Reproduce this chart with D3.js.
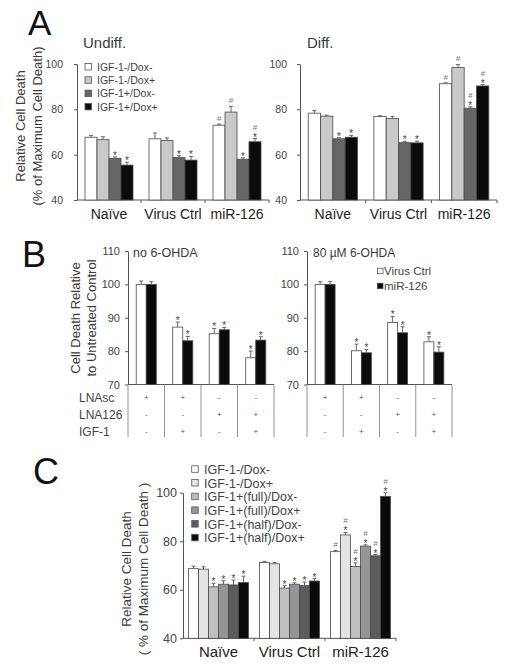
<!DOCTYPE html>
<html><head><meta charset="utf-8">
<script src="https://cdn.jsdelivr.net/npm/d3@7"></script>
<style>
body{margin:0;background:#fff}
svg{display:block}
text{font-family:"Liberation Sans",Arial,Helvetica,sans-serif}
</style>
</head><body>
<svg id="chart" width="509" height="665"></svg>
<script>
// ---------- DATA ----------
// Panel A
const aCategories = ["Naïve", "Virus Ctrl", "miR-126"];
const aSeries = ["IGF-1-/Dox-", "IGF-1-/Dox+", "IGF-1+/Dox-", "IGF-1+/Dox+"];
const aTicks = [40, 60, 80, 100];
const aUndiffValues = [[67.7, 66.6, 58.4, 55.4], [67.0, 66.2, 58.7, 57.6], [73.0, 78.8, 58.0, 65.7]];
const aUndiffErrors = [[0.8, 1.3, 0.6, 1.3], [2.6, 1.2, 0.9, 1.6], [0.5, 2.5, 0.6, 1.4]];
const aUndiffMarks = [["", "", "*", "*"], ["", "", "*", "*"], ["#", "#", "*", "#*"]];
const aDiffValues = [[78.3, 77.0, 67.0, 67.7], [76.8, 76.0, 65.3, 65.2], [91.3, 98.5, 80.5, 90.3]];
const aDiffErrors = [[1.2, 0.4, 0.5, 0.8], [0.4, 0.9, 0.6, 0.8], [0.4, 1.3, 0.6, 0.6]];
const aDiffMarks = [["", "", "*", "*"], ["", "", "*", "*"], ["#", "#", "#*", "#*"]];

// Panel B
const bGroups = ["g1", "g2", "g3", "g4"];
const bSeries = ["Virus Ctrl", "miR-126"];
const bTicks = [70, 80, 90, 100, 110];
const bNoValues = [[100, 100], [87.2, 83.1], [85.2, 86.4], [78.0, 83.3]];
const bNoErrors = [[1.0, 0.8], [1.5, 1.3], [1.6, 0.7], [2.0, 1.0]];
const bNoMarks = [["", ""], ["*", "*"], ["*", "*"], ["*", "*"]];
const b80Values = [[100, 100], [80.1, 79.5], [88.6, 85.5], [82.8, 79.7]];
const b80Errors = [[0.8, 0.8], [2.0, 1.0], [1.8, 1.8], [1.5, 1.6]];
const b80Marks = [["", ""], ["*", "*"], ["*", "*"], ["*", "*"]];
const bRowLabels = ["LNAsc", "LNA126", "IGF-1"];
const bRowSigns = [["+", "+", "-", "-"], ["-", "-", "+", "+"], ["-", "+", "-", "+"]];

// Panel C
const cCategories = ["Naïve", "Virus Ctrl", "miR-126"];
const cSeries = ["IGF-1-/Dox-", "IGF-1-/Dox+", "IGF-1+(full)/Dox-", "IGF-1+(full)/Dox+", "IGF-1+(half)/Dox-", "IGF-1+(half)/Dox+"];
const cTicks = [40, 60, 80, 100];
const cValues = [[68.7, 68.5, 61.2, 62.3, 62.0, 63.0], [71.2, 70.7, 60.7, 62.3, 61.7, 63.6], [75.7, 82.6, 69.6, 78.0, 74.0, 98.5]];
const cErrors = [[1.0, 1.0, 1.5, 1.4, 2.0, 2.6], [0.5, 0.5, 1.0, 0.6, 1.5, 1.0], [0.5, 1.0, 1.5, 0.5, 0.5, 1.5]];
const cMarks = [["", "", "*", "*", "*", "*"], ["", "", "*", "*", "*", "*"], ["#", "#*", "#*", "#*", "#*", "#*"]];

// ---------- DRAWING ----------
const svg = d3.select("#chart");
const AX = "#555", TXT = "#3a3a3a";
const aColors = ["#ffffff", "#c9c9c9", "#666666", "#0b0b0b"];
const bColors = ["#ffffff", "#0b0b0b"];
const cColors = ["#ffffff", "#e4e4e4", "#bfbfbf", "#959595", "#5c5c5c", "#0b0b0b"];

function drawPanel(p) {
  const g = svg.append("g");
  const y = d3.scaleLinear().domain(p.yDomain).range(p.yRange);
  const x0 = d3.scaleBand().domain(p.categories).range(p.xRange).paddingInner(p.pi).paddingOuter(p.po);
  const x1 = d3.scaleBand().domain(p.series).range([0, x0.bandwidth()]);
  const color = d3.scaleOrdinal().domain(p.series).range(p.colors);
  const base = y(p.yDomain[0]);

  // y axis
  const ya = g.append("g").attr("transform", `translate(${p.xRange[0]},0)`)
    .call(d3.axisLeft(y).tickValues(p.ticks).tickSize(3).tickSizeOuter(0).tickPadding(p.tickPad).tickFormat(d3.format("d")));
  ya.select(".domain").attr("stroke", AX);
  ya.selectAll(".tick line").attr("stroke", AX);
  ya.selectAll(".tick text").attr("fill", "#444").style("font-size", p.tickFont + "px")
    .style("font-family", '"Liberation Sans",Arial,sans-serif');

  // x axis line
  g.append("line").attr("x1", p.xRange[0]).attr("x2", p.xRange[1]).attr("y1", base).attr("y2", base).attr("stroke", AX);

  if (p.boundaryTicks) {
    const step = x0.step();
    p.categories.slice(1).forEach(c => {
      const bx = x0(c) - step * p.pi / 2;
      g.append("line").attr("x1", bx).attr("x2", bx).attr("y1", base).attr("y2", base + 3).attr("stroke", AX);
    });
    g.append("line").attr("x1", p.xRange[1]).attr("x2", p.xRange[1]).attr("y1", base).attr("y2", base + 3).attr("stroke", AX);
  }

  p.categories.forEach((c, i) => {
    p.series.forEach((s, j) => {
      const v = p.values[i][j], e = p.errors[i][j], m = p.marks[i][j];
      const bx = x0(c) + x1(s), bw = x1.bandwidth(), cx = bx + bw / 2;
      g.append("rect").attr("x", bx).attr("y", y(v)).attr("width", bw).attr("height", base - y(v))
        .attr("fill", color(s)).attr("stroke", "#4a4a4a").attr("stroke-width", 0.8);
      const capY = y(v + e);
      g.append("line").attr("x1", cx).attr("x2", cx).attr("y1", y(v)).attr("y2", capY).attr("stroke", "#666");
      g.append("line").attr("x1", cx - 2).attr("x2", cx + 2).attr("y1", capY).attr("y2", capY).attr("stroke", "#666");
      if (m.includes("*")) {
        g.append("text").attr("x", cx).attr("y", capY + 2).attr("text-anchor", "middle")
          .attr("fill", "#444").style("font-size", "10px").text("*");
      }
      if (m.includes("#")) {
        const hy = m.includes("*") ? capY - 9 : capY - 3;
        g.append("text").attr("x", cx).attr("y", hy).attr("text-anchor", "middle")
          .attr("fill", "#777").style("font-size", "8px").style("font-style", "italic").text("#");
      }
    });
    if (p.catLabelY) {
      g.append("text").attr("x", x0(c) + x0.bandwidth() / 2).attr("y", p.catLabelY).attr("text-anchor", "middle")
        .attr("fill", "#222").style("font-size", p.catFont + "px").text(c);
    }
  });
  return {x0, y, g};
}

function yTitle(lines, xs, cy, size) {
  lines.forEach((t, i) => {
    svg.append("text").attr("transform", `translate(${xs[i]},${cy}) rotate(-90)`).attr("text-anchor", "middle")
      .attr("fill", TXT).style("font-size", size + "px").text(t);
  });
}
function label(t, x, y, size, extra) {
  const el = svg.append("text").attr("x", x).attr("y", y).attr("fill", extra && extra.fill || TXT).style("font-size", size + "px").text(t);
  return el;
}
function legend(series, colors, x, y0, dy, size, textX) {
  series.forEach((s, i) => {
    const cy = y0 + i * dy;
    svg.append("rect").attr("x", x).attr("y", cy - 3.5).attr("width", 6.5).attr("height", 6.5)
      .attr("fill", colors[i]).attr("stroke", "#555").attr("stroke-width", 0.8);
    svg.append("text").attr("x", textX).attr("y", cy + size * 0.36).attr("fill", "#444").style("font-size", size + "px").text(s);
  });
}

// ---- Panel A ----
label("A", 28, 35, 35, {fill: "#111"});
label("Undiff.", 83, 48, 15);
label("Diff.", 307, 48, 15);
yTitle(["Relative Cell Death", "(% of Maximum Cell Death)"], [25, 42], 126, 13);
drawPanel({categories: aCategories, series: aSeries, values: aUndiffValues, errors: aUndiffErrors, marks: aUndiffMarks,
  colors: aColors, xRange: [77, 269], pi: 0.25, po: 0.125, yDomain: [40, 100], yRange: [200, 64],
  ticks: aTicks, tickPad: 11, tickFont: 10.5, catLabelY: 219, catFont: 14, boundaryTicks: true});
drawPanel({categories: aCategories, series: aSeries, values: aDiffValues, errors: aDiffErrors, marks: aDiffMarks,
  colors: aColors, xRange: [300, 497], pi: 0.25, po: 0.125, yDomain: [40, 100], yRange: [200, 64],
  ticks: aTicks, tickPad: 10, tickFont: 10.5, catLabelY: 219, catFont: 14, boundaryTicks: true});
legend(aSeries, aColors, 85, 67, 13.3, 10.5, 97);

// ---- Panel B ----
label("B", 22, 267, 36, {fill: "#111"});
yTitle(["Cell Death Relative", "to Untreated Control"], [80, 96], 318, 13);
label("no 6-OHDA", 133, 257, 12.5);
label("80 µM 6-OHDA", 313, 257, 12);
const bLeft = drawPanel({categories: bGroups, series: bSeries, values: bNoValues, errors: bNoErrors, marks: bNoMarks,
  colors: bColors, xRange: [128, 274], pi: 0.45, po: 0.225, yDomain: [70, 110], yRange: [384.5, 251],
  ticks: bTicks, tickPad: 5, tickFont: 11});
const bRight = drawPanel({categories: bGroups, series: bSeries, values: b80Values, errors: b80Errors, marks: b80Marks,
  colors: bColors, xRange: [307, 452], pi: 0.45, po: 0.225, yDomain: [70, 110], yRange: [384.5, 251],
  ticks: bTicks, tickPad: 5, tickFont: 11});
// table below B
[bLeft, bRight].forEach(pan => {
  const x0 = pan.x0, step = x0.step(), start = x0.range()[0];
  for (let k = 0; k <= bGroups.length; k++) {
    const lx = start + k * step;
    svg.append("line").attr("x1", lx).attr("x2", lx).attr("y1", 384.5).attr("y2", 437).attr("stroke", "#777").attr("stroke-width", 0.8);
  }
  bRowSigns.forEach((row, r) => {
    row.forEach((s, k) => {
      svg.append("text").attr("x", x0(bGroups[k]) + x0.bandwidth() / 2).attr("y", 400 + r * 17)
        .attr("text-anchor", "middle").attr("fill", "#555").style("font-size", "8px").text(s);
    });
  });
});
bRowLabels.forEach((t, r) => label(t, 79, 401.5 + r * 17, 12, {fill: "#444"}));
// B legend
bSeries.forEach((s, i) => {
  const cy = 270.7 + i * 15;
  svg.append("rect").attr("x", 377.5).attr("y", cy - 2.5).attr("width", 5.5).attr("height", 5.5)
    .attr("fill", bColors[i]).attr("stroke", "#444").attr("stroke-width", 0.7);
  svg.append("text").attr("x", 384).attr("y", cy + 4).attr("fill", "#444").style("font-size", "11.5px").text(s);
});

// ---- Panel C ----
label("C", 33, 484, 36, {fill: "#111"});
yTitle(["Relative Cell Death", "( % of Maximum Cell Death )"], [131, 148], 569, 13.5);
drawPanel({categories: cCategories, series: cSeries, values: cValues, errors: cErrors, marks: cMarks,
  colors: cColors, xRange: [183, 396], pi: 0.155, po: 0.0775, yDomain: [40, 100], yRange: [638.3, 492.7],
  ticks: cTicks, tickPad: 3, tickFont: 12.5, catLabelY: 657, catFont: 15, boundaryTicks: true});
legend(cSeries, cColors, 191.7, 469.3, 13.7, 12.5, 204);
</script>
</body></html>
